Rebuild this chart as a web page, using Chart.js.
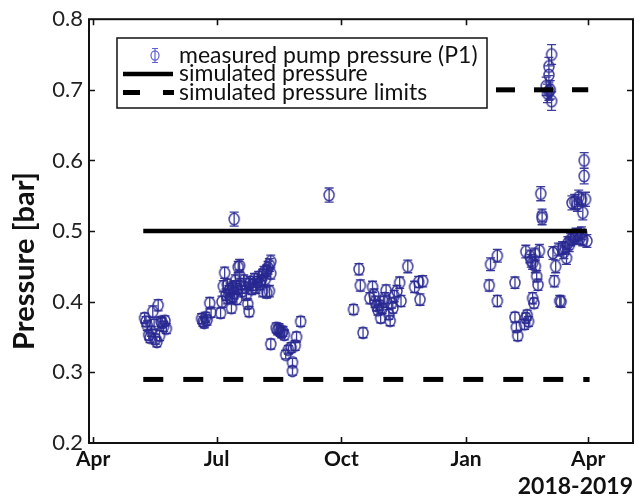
<!DOCTYPE html>
<html>
<head>
<meta charset="utf-8">
<title>Pump pressure 2018-2019</title>
<script src="https://cdn.jsdelivr.net/npm/chart.js@4.4.1/dist/chart.umd.min.js"></script>
<style>
  html, body { margin: 0; padding: 0; background: #ffffff; }
  #wrap { width: 644px; height: 500px; }
</style>
</head>
<body>
<div id="wrap"><canvas id="chart" width="644" height="500"></canvas></div>
<script>
// Day numbers count from 1 April 2018 (day 0).
const monthTicks = [0, 91, 183, 275, 365];
const monthLabels = ['Apr', 'Jul', 'Oct', 'Jan', 'Apr'];
const periodLabel = '2018-2019';
const pressureTicks = [0.2, 0.3, 0.4, 0.5, 0.6, 0.7, 0.8];
const pressureTitle = 'Pressure [bar]';

// Measured pump pressure P1 [bar] with its uncertainty.
const measuredDays = [
  38, 39, 40, 41, 42, 43, 44, 45, 46, 47, 48, 49, 50, 51, 52, 53, 54,
  80, 81, 82, 83, 84, 86, 87,
  94, 95, 96, 97, 98, 99, 100, 101, 102, 103, 104, 104, 105, 106, 107, 108, 108, 109, 110, 111,
  112, 113, 114, 115, 115, 116, 117, 118, 119, 120, 121, 122, 123, 124, 125, 125, 126, 127, 128,
  128, 129, 130, 130, 131, 131, 99, 101, 103, 105, 106,
  131, 135, 136, 137, 138, 139, 140, 141, 142, 144, 146, 147, 147, 149, 150, 153,
  174,
  192, 196, 197, 199, 204, 206, 207, 208, 209, 210, 211, 212, 213, 214, 215, 216, 218, 219, 220,
  221, 222, 224, 226, 227, 232, 237, 240, 241, 243,
  292, 293, 298, 298, 311, 311, 312, 313, 318, 319, 320, 321, 319, 322, 323, 324, 324, 325, 326,
  326, 327, 328, 329, 330, 331, 331, 334, 335, 336, 336, 336, 337, 338, 338, 339, 340, 341, 343,
  344, 345, 346, 347, 348, 349, 350, 351, 352, 353, 354, 355, 355, 356, 357, 357, 358, 359, 360,
  360, 361, 361, 362, 362, 363, 364
];
const measuredPressure = [
  0.377, 0.372, 0.366, 0.353, 0.349, 0.358, 0.386, 0.368, 0.347, 0.343, 0.395, 0.352, 0.372, 0.370, 0.365, 0.373, 0.362,
  0.376, 0.372, 0.370, 0.378, 0.374, 0.398, 0.385,
  0.384, 0.400, 0.422, 0.441, 0.410, 0.424, 0.415, 0.405, 0.391, 0.420, 0.517, 0.412, 0.430, 0.418, 0.449, 0.451, 0.437, 0.425, 0.415, 0.430,
  0.420, 0.410, 0.397, 0.386, 0.425, 0.428, 0.418, 0.424, 0.432, 0.420, 0.428, 0.435, 0.425, 0.430, 0.438, 0.415, 0.442, 0.432, 0.444,
  0.413, 0.448, 0.452, 0.415, 0.457, 0.440, 0.405, 0.418, 0.408, 0.422, 0.404,
  0.340, 0.363, 0.360, 0.362, 0.358, 0.356, 0.358, 0.353, 0.325, 0.332, 0.335, 0.314, 0.302, 0.338, 0.350, 0.372,
  0.551,
  0.389, 0.446, 0.423, 0.356, 0.405, 0.421, 0.410, 0.400, 0.394, 0.388, 0.395, 0.377, 0.390, 0.400, 0.405, 0.416, 0.382, 0.373, 0.398,
  0.391, 0.408, 0.415, 0.427, 0.401, 0.450, 0.421, 0.428, 0.403, 0.429,
  0.423, 0.453, 0.465, 0.401, 0.427, 0.378, 0.364, 0.352, 0.368, 0.377, 0.381, 0.372, 0.471, 0.464, 0.458, 0.455, 0.405, 0.398, 0.467,
  0.450, 0.436, 0.424, 0.472, 0.553, 0.522, 0.518, 0.705, 0.695, 0.733, 0.721, 0.698, 0.700, 0.750, 0.684, 0.469, 0.429, 0.450, 0.474,
  0.401, 0.400, 0.476, 0.470, 0.476, 0.462, 0.483, 0.480, 0.488, 0.540, 0.492, 0.542, 0.490, 0.495, 0.538, 0.495, 0.548, 0.490, 0.545,
  0.497, 0.526, 0.488, 0.578, 0.600, 0.545, 0.486
];
const measuredError = [
  0.007, 0.007, 0.007, 0.007, 0.007, 0.007, 0.008, 0.007, 0.007, 0.007, 0.008, 0.007, 0.007, 0.007, 0.007, 0.007, 0.007,
  0.007, 0.007, 0.007, 0.007, 0.007, 0.008, 0.007,
  0.007, 0.008, 0.008, 0.008, 0.008, 0.008, 0.008, 0.008, 0.007, 0.008, 0.010, 0.008, 0.008, 0.008, 0.008, 0.009, 0.008, 0.008, 0.008, 0.008,
  0.008, 0.008, 0.007, 0.007, 0.008, 0.008, 0.008, 0.008, 0.008, 0.008, 0.008, 0.008, 0.008, 0.008, 0.008, 0.008, 0.008, 0.008, 0.008,
  0.008, 0.009, 0.009, 0.008, 0.009, 0.008, 0.008, 0.008, 0.008, 0.008, 0.008,
  0.007, 0.007, 0.007, 0.007, 0.007, 0.007, 0.007, 0.007, 0.006, 0.006, 0.007, 0.006, 0.006, 0.007, 0.007, 0.007,
  0.010,
  0.007, 0.008, 0.008, 0.007, 0.008, 0.008, 0.008, 0.008, 0.007, 0.007, 0.007, 0.007, 0.007, 0.008, 0.008, 0.008, 0.007, 0.007, 0.007,
  0.007, 0.008, 0.008, 0.008, 0.008, 0.009, 0.008, 0.008, 0.008, 0.008,
  0.008, 0.009, 0.009, 0.008, 0.008, 0.007, 0.007, 0.007, 0.007, 0.007, 0.007, 0.007, 0.009, 0.009, 0.009, 0.009, 0.008, 0.007, 0.009,
  0.009, 0.008, 0.008, 0.009, 0.010, 0.009, 0.009, 0.013, 0.013, 0.013, 0.013, 0.013, 0.013, 0.014, 0.013, 0.009, 0.008, 0.009, 0.009,
  0.008, 0.008, 0.009, 0.009, 0.009, 0.009, 0.009, 0.009, 0.009, 0.010, 0.009, 0.010, 0.009, 0.009, 0.010, 0.009, 0.010, 0.009, 0.010,
  0.009, 0.010, 0.009, 0.011, 0.011, 0.010, 0.009
];

// Simulated pressure and its limits.
const simulatedDays = [37, 364];
const simulatedPressure = [0.50, 0.50];
const lowerLimitDays = [37, 366];
const lowerLimitPressure = [0.29, 0.29];
const upperLimitDays = [297, 365];
const upperLimitPressure = [0.70, 0.70];

const FONT = 'Lato, "Open Sans", sans-serif';
const MARKER = 'rgba(40, 40, 145, 0.9)';
const MARKER_LIGHT = 'rgb(95, 95, 215)';

const toPoints = (xs, ys) => xs.map((d, i) => ({ x: d, y: ys[i] }));

// Open, slightly tall ring used as the measurement marker.
function ringMarker() {
  const c = document.createElement('canvas');
  c.width = 14; c.height = 16;
  const g = c.getContext('2d');
  g.strokeStyle = MARKER;
  g.lineWidth = 1.5;
  g.beginPath();
  g.ellipse(7, 8, 5, 5.8, 0, 0, Math.PI * 2);
  g.stroke();
  return c;
}

// Vertical error bars with caps, drawn under the measurement rings.
const errorBars = {
  id: 'errorBars',
  beforeDatasetDraw(chart, args) {
    if (args.index !== 0) return;
    const { ctx, chartArea: a, scales: { x, y } } = chart;
    ctx.save();
    ctx.beginPath();
    ctx.rect(a.left, a.top, a.right - a.left, a.bottom - a.top);
    ctx.clip();
    ctx.strokeStyle = MARKER;
    ctx.lineWidth = 1.3;
    ctx.beginPath();
    measuredDays.forEach((d, i) => {
      const px = x.getPixelForValue(d);
      const top = y.getPixelForValue(measuredPressure[i] + measuredError[i]);
      const bot = y.getPixelForValue(measuredPressure[i] - measuredError[i]);
      ctx.moveTo(px, top); ctx.lineTo(px, bot);
      ctx.moveTo(px - 4.5, top); ctx.lineTo(px + 4.5, top);
      ctx.moveTo(px - 4.5, bot); ctx.lineTo(px + 4.5, bot);
    });
    ctx.stroke();
    ctx.restore();
  }
};

// Box around the axes with inward tick marks on all four sides.
const axesBox = {
  id: 'axesBox',
  afterDatasetsDraw(chart) {
    const { ctx, chartArea: a, scales: { x, y } } = chart;
    const len = 6;
    ctx.save();
    ctx.strokeStyle = '#111';
    ctx.lineWidth = 1.6;
    ctx.beginPath();
    y.ticks.forEach(t => {
      const py = Math.round(y.getPixelForValue(t.value)) + 0.5;
      if (py <= a.top + 1 || py >= a.bottom - 1) return;
      ctx.moveTo(a.left, py); ctx.lineTo(a.left + len, py);
      ctx.moveTo(a.right, py); ctx.lineTo(a.right - len, py);
    });
    x.ticks.forEach(t => {
      const px = Math.round(x.getPixelForValue(t.value)) + 0.5;
      ctx.moveTo(px, a.bottom); ctx.lineTo(px, a.bottom - len);
      ctx.moveTo(px, a.top); ctx.lineTo(px, a.top + len);
    });
    ctx.stroke();
    ctx.lineWidth = 2;
    ctx.strokeRect(a.left, a.top, a.right - a.left, a.bottom - a.top);
    ctx.restore();
  }
};

// Rotated y-axis title.
const pressureLabel = {
  id: 'pressureLabel',
  afterDraw(chart) {
    const { ctx } = chart;
    ctx.save();
    ctx.translate(25, 261);
    ctx.rotate(-Math.PI / 2);
    ctx.font = 'bold 29px ' + FONT;
    ctx.fillStyle = '#111';
    ctx.textAlign = 'center';
    ctx.textBaseline = 'middle';
    ctx.fillText(pressureTitle, 0, 0);
    ctx.restore();
  }
};

// Boxed legend in the upper left of the plot.
const boxedLegend = {
  id: 'boxedLegend',
  afterDraw(chart) {
    const { ctx } = chart;
    const ds = chart.data.datasets;
    const box = { l: 117, t: 38, w: 370, h: 70 };
    const rows = [55.5, 74, 92.5];
    ctx.save();
    ctx.fillStyle = '#fff';
    ctx.fillRect(box.l, box.t, box.w, box.h);
    ctx.strokeStyle = '#111';
    ctx.lineWidth = 1.5;
    ctx.strokeRect(box.l, box.t, box.w, box.h);

    // measurement symbol
    const cx = 155, cy = rows[0];
    ctx.strokeStyle = MARKER_LIGHT;
    ctx.lineWidth = 1.2;
    ctx.beginPath();
    ctx.ellipse(cx, cy, 4, 4.6, 0, 0, Math.PI * 2);
    ctx.moveTo(cx, cy - 7); ctx.lineTo(cx, cy + 7);
    ctx.moveTo(cx - 3, cy - 7); ctx.lineTo(cx + 3, cy - 7);
    ctx.moveTo(cx - 3, cy + 7); ctx.lineTo(cx + 3, cy + 7);
    ctx.stroke();

    // solid line symbol
    ctx.strokeStyle = '#000';
    ctx.lineWidth = 4.5;
    ctx.beginPath();
    ctx.moveTo(123, rows[1]); ctx.lineTo(173, rows[1]);
    ctx.stroke();

    // dashed line symbol
    ctx.lineWidth = 5;
    ctx.beginPath();
    ctx.moveTo(123, rows[2]); ctx.lineTo(140, rows[2]);
    ctx.moveTo(163, rows[2]); ctx.lineTo(174, rows[2]);
    ctx.stroke();

    ctx.fillStyle = '#111';
    ctx.font = '23px ' + FONT;
    ctx.textBaseline = 'middle';
    ctx.textAlign = 'left';
    [0, 1, 2].forEach(i => ctx.fillText(ds[i].label, 179, rows[i]));
    ctx.restore();
  }
};

function draw() {
  new Chart(document.getElementById('chart'), {
    type: 'scatter',
    data: {
      datasets: [
        {
          label: 'measured pump pressure (P1)',
          data: toPoints(measuredDays, measuredPressure),
          pointStyle: ringMarker(),
          pointRadius: 5,
          showLine: false,
          order: 2
        },
        {
          label: 'simulated pressure',
          data: toPoints(simulatedDays, simulatedPressure),
          showLine: true,
          pointRadius: 0,
          borderColor: '#000',
          borderWidth: 4.5,
          order: 1
        },
        {
          label: 'simulated pressure limits',
          data: toPoints(lowerLimitDays, lowerLimitPressure),
          showLine: true,
          pointRadius: 0,
          borderColor: '#000',
          borderWidth: 5,
          borderDash: [20, 20],
          borderCapStyle: 'butt',
          order: 1
        },
        {
          label: 'simulated pressure limits (upper)',
          data: toPoints(upperLimitDays, upperLimitPressure),
          showLine: true,
          pointRadius: 0,
          borderColor: '#000',
          borderWidth: 5,
          borderDash: [19, 19],
          borderCapStyle: 'butt',
          order: 1
        }
      ]
    },
    options: {
      responsive: false,
      animation: false,
      devicePixelRatio: 1,
      layout: { padding: { top: 18, right: 11, left: 0, bottom: 0 } },
      plugins: { legend: { display: false }, tooltip: { enabled: false } },
      scales: {
        x: {
          type: 'linear',
          min: -3,
          max: 398,
          grid: { display: false, drawTicks: false },
          border: { display: false },
          afterBuildTicks: s => { s.ticks = monthTicks.map(v => ({ value: v })); },
          afterFit: s => { s.height = 57; },
          ticks: {
            autoSkip: false,
            maxRotation: 0,
            padding: 4,
            color: '#111',
            font: { family: FONT, size: 21, weight: 'bold' },
            callback: (v, i) => monthLabels[i]
          },
          title: {
            display: true,
            text: periodLabel,
            align: 'end',
            color: '#111',
            padding: { top: 0, bottom: 0 },
            font: { family: FONT, size: 23, weight: 'bold' }
          }
        },
        y: {
          min: 0.2,
          max: 0.8,
          grid: { display: false, drawTicks: false },
          border: { display: false },
          afterBuildTicks: s => { s.ticks = pressureTicks.map(v => ({ value: v })); },
          afterFit: s => { s.width = 89; },
          ticks: {
            padding: 6,
            color: '#222',
            font: { family: FONT, size: 22 },
            callback: v => v.toFixed(1)
          },
          title: { display: false }
        }
      }
    },
    plugins: [errorBars, axesBox, pressureLabel, boxedLegend]
  });
}

Promise.all([
  document.fonts.load('20px Lato'),
  document.fonts.load('bold 20px Lato')
]).then(draw, draw);
</script>
</body>
</html>
